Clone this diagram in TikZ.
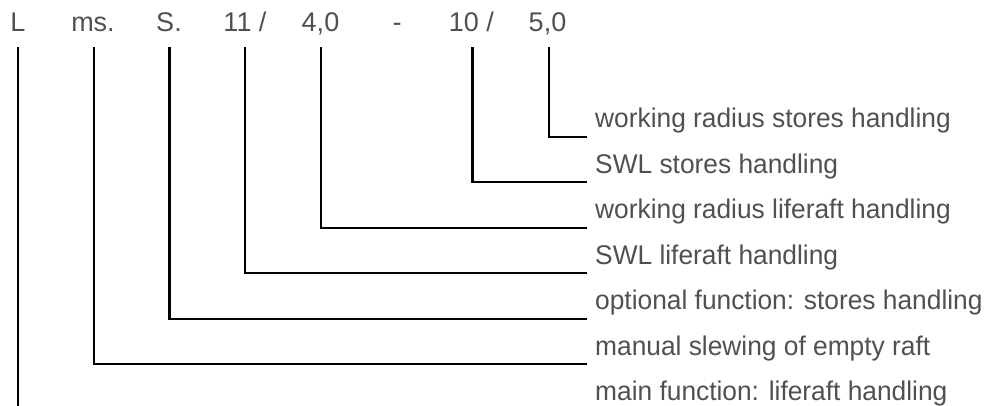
\documentclass[tikz,border=0pt]{standalone}
\usepackage{fontspec}
\setmainfont{Liberation Sans}
\newfontfamily\descfont[FakeStretch=0.975]{Liberation Sans}
\definecolor{txtgray}{HTML}{505050}
\begin{document}
\begin{tikzpicture}[x=1pt,y=-1pt,
  toplab/.style={anchor=base,inner sep=0pt,text=txtgray,font=\fontsize{27}{32}\selectfont},
  desc/.style={anchor=base west,inner sep=0pt,text=txtgray,font=\descfont\fontsize{27}{32}\selectfont},
  conn/.style={draw=black,line width=2.2pt}]
\useasboundingbox (0,0) rectangle (988,406);
% top code labels
\node[toplab] (lL)  at (18,32)  {L};
\node[toplab] (lms) at (93,32)  {ms.};
\node[toplab] (lS)  at (169,32) {S.};
\node[toplab] (l11) at (245,32) {11 /};
\node[toplab] (l40) at (320.5,32) {4,0};
\node[toplab] (ldash) at (397,32) {-};
\node[toplab] (l10) at (471.5,32) {10 /};
\node[toplab] (l50) at (547.5,32) {5,0};
% connector start points
\coordinate (sL)  at (18,47);
\coordinate (sms) at (94,47);
\coordinate (sS)  at (169.5,47);
\coordinate (s11) at (245,47);
\coordinate (s40) at (321,47);
\coordinate (s10) at (472.5,47);
\coordinate (s50) at (549,47);
% descriptions
\node[desc] (d1) at (595,128)   {working radius stores handling};
\node[desc] (d2) at (595,173.4) {SWL stores handling};
\node[desc] (d3) at (595,218.8) {working radius liferaft handling};
\node[desc] (d4) at (595,264.2) {SWL liferaft handling};
\node[desc] (d5) at (595,309.6) {optional function: stores handling};
\node[desc] (d6) at (595,355)   {manual slewing of empty raft};
\node[desc] (d7) at (595,400.4) {main function: liferaft handling};
% connector end points
\coordinate (e1) at (587,137);
\coordinate (e2) at (587,182.4);
\coordinate (e3) at (587,227.8);
\coordinate (e4) at (587,273.2);
\coordinate (e5) at (587,318.6);
\coordinate (e6) at (587,364);
\coordinate (e7) at (18,406);
% connectors
\draw[conn] (s50) |- (e1);
\draw[conn] (s10) |- (e2);
\draw[conn] (s40) |- (e3);
\draw[conn] (s11) |- (e4);
\draw[conn] (sS)  |- (e5);
\draw[conn] (sms) |- (e6);
\draw[conn] (sL)  -- (e7);
\end{tikzpicture}
\end{document}
